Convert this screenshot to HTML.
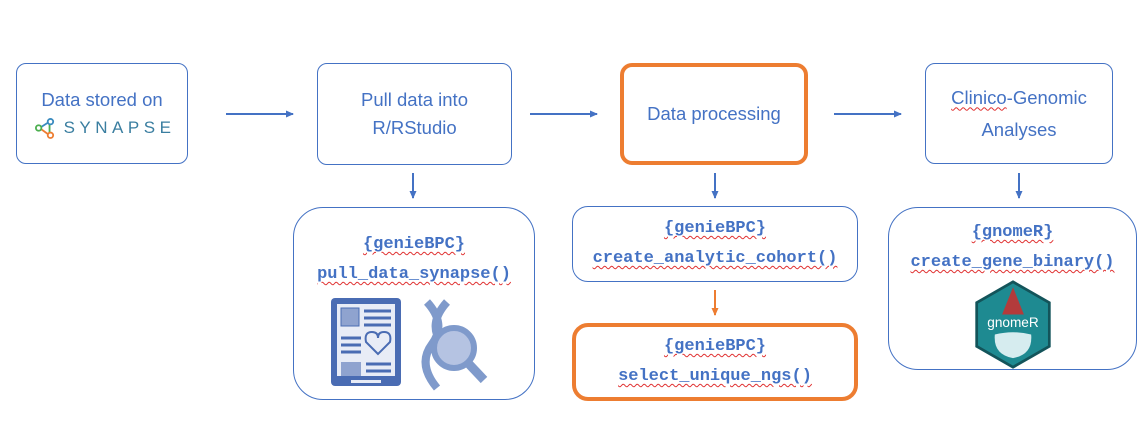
<!DOCTYPE html>
<html><head><style>
body{margin:0;width:1140px;height:444px;background:#fff;position:relative;overflow:hidden;font-family:"Liberation Sans",sans-serif;color:#4472c4}
.b{position:absolute;box-sizing:border-box;border:1.5px solid #4472c4;border-radius:10px;display:flex;flex-direction:column;align-items:center;justify-content:center;text-align:center;font-size:18.5px;line-height:28px}
.o{border:4px solid #ed7d31;border-radius:12px}
.m{font-family:"Liberation Mono",monospace;font-weight:bold;font-size:17px;line-height:30px;color:#4472c4}
.u{text-decoration:underline wavy #e03030;text-decoration-thickness:1px;text-underline-offset:3px}
svg{position:absolute;left:0;top:0}
</style></head><body>
<div class="b" style="left:16px;top:63px;width:172px;height:101px"><div>Data stored on</div>
<div style="display:flex;align-items:center;gap:9px;letter-spacing:4.5px;color:#3a7ea0;font-size:17px;margin-left:6px">
<svg style="position:static" width="20" height="24" viewBox="0 0 22 24"><line x1="5" y1="12" x2="16" y2="5" stroke="#3a8bbf" stroke-width="2"/><line x1="5" y1="12" x2="16" y2="20" stroke="#ed7d31" stroke-width="2"/><line x1="16" y1="5" x2="16" y2="20" stroke="#4caf50" stroke-width="2"/><circle cx="4" cy="12" r="3" fill="#fff" stroke="#4caf50" stroke-width="2"/><circle cx="17" cy="5" r="3" fill="#fff" stroke="#3a8bbf" stroke-width="2"/><circle cx="17" cy="20" r="3" fill="#fff" stroke="#ed7d31" stroke-width="2"/></svg>SYNAPSE</div></div>
<div class="b" style="left:317px;top:63px;width:195px;height:102px"><div>Pull data into</div><div>R/RStudio</div></div>
<div class="b o" style="left:620px;top:63px;width:188px;height:102px"><div>Data processing</div></div>
<div class="b" style="left:925px;top:63px;width:188px;height:101px;line-height:32px"><div><span class="u">Clinico</span>-Genomic</div><div>Analyses</div></div>

<div class="b" style="left:293px;top:207px;width:242px;height:193px;border-radius:30px;justify-content:flex-start;padding-top:22px">
<div class="m u">{genieBPC}</div><div class="m u">pull_data_synapse()</div>
<svg style="left:30px;top:88px" width="190" height="100" viewBox="0 0 190 100">
<rect x="7" y="2" width="70" height="88" rx="4" fill="#4a6cb3"/><rect x="13" y="8" width="58" height="72" fill="#e8ecf6"/>
<rect x="17" y="12" width="18" height="18" fill="#8fa3cf" stroke="#4a6cb3"/><g stroke="#4a6cb3" stroke-width="3"><line x1="40" y1="15" x2="67" y2="15"/><line x1="40" y1="22" x2="67" y2="22"/><line x1="40" y1="29" x2="67" y2="29"/><line x1="17" y1="42" x2="37" y2="42"/><line x1="17" y1="49" x2="37" y2="49"/><line x1="17" y1="56" x2="37" y2="56"/><line x1="42" y1="68" x2="67" y2="68"/><line x1="42" y1="75" x2="67" y2="75"/></g>
<path d="M54 58 L42 46 Q40 36 48 36 Q54 36 54 42 Q54 36 60 36 Q68 36 66 46Z" fill="none" stroke="#4a6cb3" stroke-width="2"/>
<rect x="17" y="66" width="20" height="14" fill="#8fa3cf"/>
<rect x="27" y="84" width="30" height="3" fill="#e8ecf6"/>
<path d="M103 6 Q123 28 108 48 Q93 68 113 92 M123 6 Q103 28 118 48" fill="none" stroke="#7f9acb" stroke-width="8"/>
<circle cx="130" cy="52" r="20" fill="#b5c3e2" stroke="#7f9acb" stroke-width="6"/><line x1="144" y1="67" x2="160" y2="84" stroke="#7f9acb" stroke-width="9"/></svg></div>

<div class="b" style="left:572px;top:206px;width:286px;height:76px;border-radius:16px"><div class="m u">{genieBPC}</div><div class="m u">create_analytic_cohort()</div></div>
<div class="b o" style="left:572px;top:323px;width:286px;height:78px;border-radius:16px"><div class="m u">{genieBPC}</div><div class="m u">select_unique_ngs()</div></div>
<div class="b" style="left:888px;top:207px;width:249px;height:163px;border-radius:30px;justify-content:flex-start;padding-top:10px">
<div class="m u">{gnomeR}</div><div class="m u">create_gene_binary()</div>
<svg style="position:static;margin-top:2px" width="84" height="98" viewBox="0 0 84 98"><polygon points="42,2 82,25 82,73 42,96 2,73 2,25" fill="#1e8a91" stroke="#13545a" stroke-width="3"/><polygon points="42,8 30,38 54,38" fill="#b33b3b"/><text x="42" y="52" font-size="15" fill="#fff" text-anchor="middle" font-family="Liberation Sans">gnomeR</text><path d="M22 60 Q42 55 62 60 Q64 82 42 86 Q20 82 22 60Z" fill="#d6ecef"/></svg></div>

<svg width="1140" height="444">
<defs><marker id="a" markerWidth="8" markerHeight="8" refX="7" refY="4" orient="auto" markerUnits="userSpaceOnUse"><path d="M0,0.5 L8,4 L0,7.5Z" fill="#4472c4"/></marker>
<marker id="b" markerWidth="8" markerHeight="8" refX="7" refY="4" orient="auto" markerUnits="userSpaceOnUse"><path d="M0,0.5 L8,4 L0,7.5Z" fill="#ed7d31"/></marker></defs>
<g stroke="#4472c4" stroke-width="2" marker-end="url(#a)">
<line x1="226" y1="114" x2="293" y2="114"/><line x1="530" y1="114" x2="597" y2="114"/><line x1="834" y1="114" x2="901" y2="114"/>
<line x1="413" y1="173" x2="413" y2="198"/><line x1="715" y1="173" x2="715" y2="198"/><line x1="1019" y1="173" x2="1019" y2="198"/></g>
<line x1="715" y1="290" x2="715" y2="315" stroke="#ed7d31" stroke-width="2" marker-end="url(#b)"/>
</svg>
</body></html>
